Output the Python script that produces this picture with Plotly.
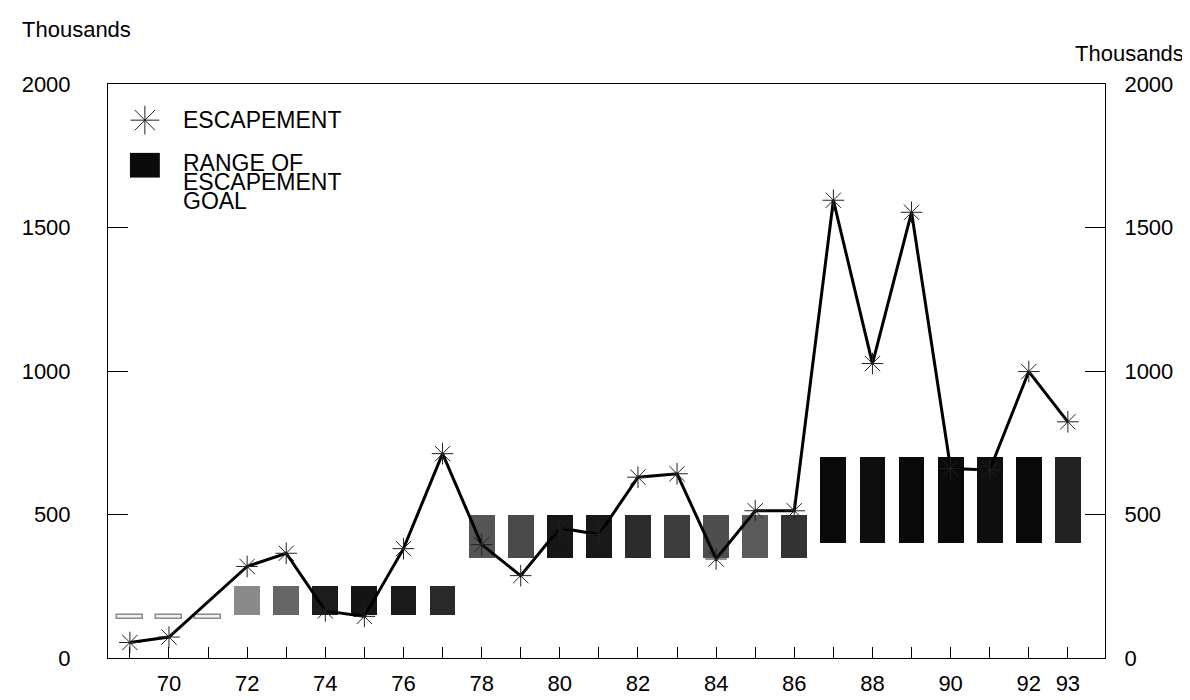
import plotly.graph_objects as go

years = list(range(69, 94))
year_labels = ["", "70", "", "72", "", "74", "", "76", "", "78", "", "80", "", "82", "", "84", "", "86", "", "88", "", "90", "", "92", "93"]
escapement = [54, 73, None, 319, 365, 164, 145, 381, 712, 395, 287, 453, 430, 630, 642, 345, 513, 513,
              1595, 1026, 1553, 660, 655, 998, 823]
goal_low = [135, 135, 135, 150, 150, 150, 150, 150, 150,
            350, 350, 350, 350, 350, 350, 350, 350, 350,
            400, 400, 400, 400, 400, 400, 400]
goal_high = [150, 150, 150, 250, 250, 250, 250, 250, 250,
             500, 500, 500, 500, 500, 500, 500, 500, 500,
             700, 700, 700, 700, 700, 700, 700]
y_ticks = [0, 500, 1000, 1500, 2000]

bar_fill = ["#f2f2f2", "#f2f2f2", "#f2f2f2",
            "#8a8a8a", "#666666", "#1c1c1c", "#141414", "#1a1a1a", "#2a2a2a",
            "#555555", "#4a4a4a", "#161616", "#181818", "#2c2c2c", "#3c3c3c", "#4e4e4e", "#5a5a5a", "#333333",
            "#0a0a0a", "#0e0e0e", "#0a0a0a", "#0a0a0a", "#0e0e0e", "#0a0a0a", "#222222"]
bar_line = ["#8a8a8a"] * 3 + ["rgba(0,0,0,0)"] * 22
bar_line_w = [1.5] * 3 + [0] * 22

FONT = "Liberation Sans, Arial, sans-serif"

fig = go.Figure()

fig.add_trace(go.Bar(
    x=years,
    y=[h - l for h, l in zip(goal_high, goal_low)],
    base=goal_low,
    width=0.66,
    marker=dict(color=bar_fill, line=dict(color=bar_line, width=bar_line_w)),
    showlegend=False,
    hoverinfo="skip",
))

fig.add_trace(go.Scatter(
    x=years, y=escapement, mode="lines+markers", connectgaps=True,
    line=dict(color="black", width=3),
    marker=dict(symbol="asterisk-open", size=18, color="#222222",
                line=dict(color="#222222", width=1)),
    showlegend=False,
))

# legend symbol (star) on a hidden overlay axis
fig.add_trace(go.Scatter(
    x=[0.037], y=[0.937], xaxis="x3", yaxis="y3", mode="markers",
    marker=dict(symbol="asterisk-open", size=24, color="#222222",
                line=dict(color="#222222", width=1)),
    showlegend=False, hoverinfo="skip",
))

fig.update_layout(
    width=1190, height=700,
    margin=dict(l=100, r=93, t=76, b=34),
    paper_bgcolor="white", plot_bgcolor="white",
    font=dict(family=FONT, size=22, color="black"),
    showlegend=False,
    bargap=0,
    xaxis=dict(
        range=[68.44, 93.95], tickmode="array", tickvals=years, ticktext=year_labels,
        ticks="inside", ticklen=11, tickwidth=1, tickcolor="black",
        showline=True, linecolor="black", linewidth=1, mirror=True,
        showgrid=False, zeroline=False, ticklabelstandoff=6,
        tickfont=dict(size=22, family=FONT),
    ),
    yaxis=dict(
        range=[0, 2000], tickmode="array", tickvals=y_ticks,
        ticks="inside", ticklen=20, tickwidth=1, tickcolor="black",
        showline=True, linecolor="black", linewidth=1,
        showgrid=False, zeroline=False, ticklabelstandoff=32,
        tickfont=dict(size=22, family=FONT),
    ),
    yaxis2=dict(
        range=[0, 2000], tickmode="array", tickvals=y_ticks, overlaying="y", side="right",
        ticks="inside", ticklen=20, tickwidth=1, tickcolor="black",
        showline=True, linecolor="black", linewidth=1,
        showgrid=False, zeroline=False, ticklabelstandoff=14,
        tickfont=dict(size=22, family=FONT),
    ),
    xaxis3=dict(range=[0, 1], overlaying="x", visible=False, fixedrange=True),
    yaxis3=dict(range=[0, 1], overlaying="y", visible=False, fixedrange=True),
)

# dummy trace so right axis renders
fig.add_trace(go.Scatter(x=[None], y=[None], yaxis="y2", showlegend=False, hoverinfo="skip"))

fig.add_shape(type="rect", xref="paper", yref="paper",
              x0=0.022, x1=0.052, y0=0.837, y1=0.880,
              fillcolor="#0a0a0a", line=dict(width=0))

ann = [
    dict(text="ESCAPEMENT", x=0.073, y=0.937),
    dict(text="RANGE OF", x=0.073, y=0.863),
    dict(text="ESCAPEMENT", x=0.073, y=0.829),
    dict(text="GOAL", x=0.073, y=0.797),
]
for a in ann:
    fig.add_annotation(text=a["text"], x=a["x"], y=a["y"], xref="paper", yref="paper",
                       xanchor="left", yanchor="middle", showarrow=False,
                       font=dict(size=23, family=FONT, color="black"))

fig.add_annotation(text="Thousands", x=-0.0883, y=1.095, xref="paper", yref="paper",
                   xanchor="left", yanchor="middle", showarrow=False,
                   font=dict(size=22, family=FONT, color="black"))
fig.add_annotation(text="Thousands", x=0.968, y=1.053, xref="paper", yref="paper",
                   xanchor="left", yanchor="middle", showarrow=False,
                   font=dict(size=22, family=FONT, color="black"))

fig.write_html("out.html")
